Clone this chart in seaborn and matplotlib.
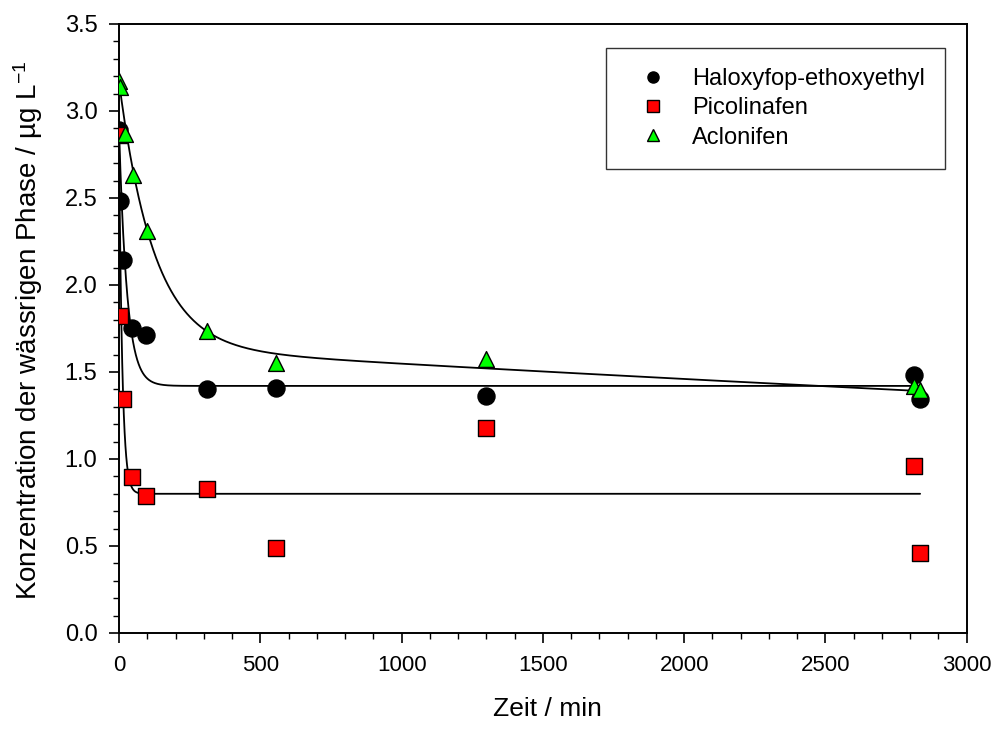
import numpy as np
import pandas as pd
import matplotlib
matplotlib.use("Agg")
import matplotlib.pyplot as plt
from matplotlib.lines import Line2D
from matplotlib.ticker import MultipleLocator
import seaborn as sns

# ---------------- data ----------------
series_names = ["Haloxyfop-ethoxyethyl", "Picolinafen", "Aclonifen"]

halox_time = [0, 5, 15, 45, 95, 310, 555, 1300, 2815, 2835]
halox_conc = [2.89, 2.48, 2.145, 1.75, 1.71, 1.40, 1.41, 1.36, 1.48, 1.345]

picol_time = [0, 5, 15, 45, 95, 310, 555, 1300, 2815, 2835]
picol_conc = [2.86, 1.82, 1.345, 0.895, 0.785, 0.83, 0.49, 1.18, 0.96, 0.46]

aclon_time = [0, 5, 20, 50, 100, 310, 555, 1300, 2815, 2835]
aclon_conc = [3.17, 3.14, 2.87, 2.63, 2.31, 1.735, 1.55, 1.575, 1.42, 1.395]

# regression curve coefficients
halox_fit = {"plateau": 1.42, "amp": 1.48, "rate": 0.0355}
picol_fit = {"plateau": 0.80, "amp": 2.06, "rate": 0.0886}
aclon_fit = {"amp_fast": 1.53, "rate_fast": 0.0081, "amp_slow": 1.64, "rate_slow": 5.82e-5}
fit_end = 2835

x_ticks = [0, 500, 1000, 1500, 2000, 2500, 3000]
y_ticks = [0.0, 0.5, 1.0, 1.5, 2.0, 2.5, 3.0, 3.5]

# ---------------- style ----------------
sns.set_style("ticks")
plt.rcParams["font.family"] = ["Liberation Sans", "DejaVu Sans"]
plt.rcParams["mathtext.fontset"] = "custom"
plt.rcParams["mathtext.rm"] = "Liberation Sans"
plt.rcParams["mathtext.it"] = "Liberation Sans:italic"
plt.rcParams["mathtext.bf"] = "Liberation Sans:bold"
for key in ["text.color", "axes.labelcolor", "xtick.color", "ytick.color", "axes.edgecolor"]:
    plt.rcParams[key] = "black"

colors = {"Haloxyfop-ethoxyethyl": "#000000", "Picolinafen": "#FF0000", "Aclonifen": "#00FF00"}
markers = {"Haloxyfop-ethoxyethyl": "o", "Picolinafen": "s", "Aclonifen": "^"}
sizes = {"Haloxyfop-ethoxyethyl": 150, "Picolinafen": 120, "Aclonifen": 130}

fig = plt.figure(figsize=(9.95, 7.29), dpi=100)
ax = fig.add_axes([0.1196, 0.1317, 0.8520, 0.8354])

# fitted curves
t_grid = np.linspace(0, fit_end, 4000)
curves = [
    halox_fit["plateau"] + halox_fit["amp"] * np.exp(-halox_fit["rate"] * t_grid),
    picol_fit["plateau"] + picol_fit["amp"] * np.exp(-picol_fit["rate"] * t_grid),
    aclon_fit["amp_fast"] * np.exp(-aclon_fit["rate_fast"] * t_grid)
    + aclon_fit["amp_slow"] * np.exp(-aclon_fit["rate_slow"] * t_grid),
]
for c in curves:
    sns.lineplot(x=t_grid, y=c, ax=ax, color="black", linewidth=1.3,
                 estimator=None, sort=False, zorder=2)

# data points
frames = []
for name, t, v in [(series_names[0], halox_time, halox_conc),
                   (series_names[1], picol_time, picol_conc),
                   (series_names[2], aclon_time, aclon_conc)]:
    frames.append(pd.DataFrame({"Zeit": t, "Konz": v, "Substanz": name}))
df = pd.concat(frames, ignore_index=True)

for name in series_names:
    sub = df[df["Substanz"] == name]
    sns.scatterplot(data=sub, x="Zeit", y="Konz", ax=ax, marker=markers[name],
                    color=colors[name], edgecolor="black", linewidth=1.0,
                    s=sizes[name], zorder=3, legend=False)

# axes
ax.set_xlim(0, 3000)
ax.set_ylim(0, 3.5)
ax.set_xticks(x_ticks)
ax.set_yticks(y_ticks)
ax.set_yticklabels([f"{v:.1f}" for v in y_ticks])
ax.xaxis.set_minor_locator(MultipleLocator(100))
ax.yaxis.set_minor_locator(MultipleLocator(0.1))
ax.tick_params(axis="x", which="major", direction="out", length=7, width=1.2,
               labelsize=16, pad=9, top=False)
ax.tick_params(axis="y", which="major", direction="out", length=7, width=1.2,
               labelsize=17, pad=8.5, right=False)
ax.tick_params(axis="both", which="minor", direction="out", length=4.3, width=1.0,
               top=False, right=False)
for sp in ax.spines.values():
    sp.set_visible(True)
    sp.set_linewidth(1.4)
    sp.set_color("black")

ax.set_xlabel("Zeit / min", fontsize=19)
ax.set_ylabel("Konzentration der wässrigen Phase / µg L$^{-1}$", fontsize=20)
ax.xaxis.set_label_coords(0.505, -0.105)
ax.yaxis.set_label_coords(-0.087, 0.4975)

# legend
handles = [Line2D([], [], linestyle="none", marker=markers[n], markerfacecolor=colors[n],
                  markeredgecolor="black", markeredgewidth=1.0, markersize=8)
           for n in series_names]
leg = ax.legend(handles, series_names, loc="upper right", bbox_to_anchor=(0.974, 0.960),
                fontsize=17, frameon=True, fancybox=False, edgecolor="black",
                borderpad=0.85, handlelength=2.3, handletextpad=0.5, labelspacing=0.3,
                borderaxespad=0)
leg.get_frame().set_linewidth(1.0)

fig.savefig("out.png", dpi=100)
